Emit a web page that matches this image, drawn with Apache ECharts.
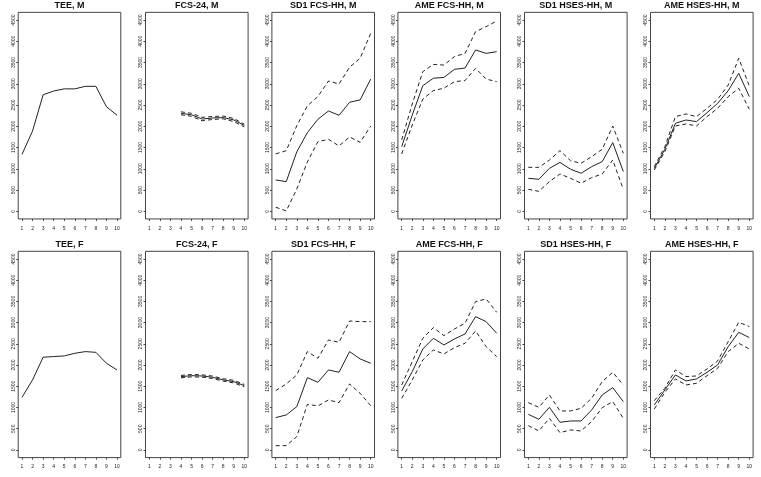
<!DOCTYPE html>
<html>
<head>
<meta charset="utf-8">
<script src="https://cdn.jsdelivr.net/npm/echarts@6/dist/echarts.min.js"></script>
<style>html,body{margin:0;padding:0;background:#fff}#c{width:761px;height:477px}</style>
</head>
<body>
<div id="c"></div>
<script>
// ---- data ----
const xs = [1, 2, 3, 4, 5, 6, 7, 8, 9, 10];
const yTicks = [0, 500, 1000, 1500, 2000, 2500, 3000, 3500, 4000, 4500];
const titles = ['TEE, M', 'FCS-24, M', 'SD1 FCS-HH, M', 'AME FCS-HH, M', 'SD1 HSES-HH, M', 'AME HSES-HH, M',
                'TEE, F', 'FCS-24, F', 'SD1 FCS-HH, F', 'AME FCS-HH, F', 'SD1 HSES-HH, F', 'AME HSES-HH, F'];

const teeM = [1340, 1890, 2740, 2830, 2880, 2880, 2940, 2940, 2460, 2260];

const fcs24M    = [null, null, null, 2305, 2270, 2170, 2195, 2205, 2150, 2020];
const fcs24M_hi = [null, null, null, 2340, 2305, 2210, 2230, 2240, 2185, 2050];
const fcs24M_lo = [null, null, null, 2270, 2235, 2130, 2160, 2175, 2110, 1985];

const sd1FcsM    = [737, 698, 1400, 1850, 2165, 2360, 2258, 2565, 2620, 3110];
const sd1FcsM_hi = [1350, 1425, 2015, 2480, 2700, 3065, 2995, 3390, 3600, 4185];
const sd1FcsM_lo = [95, 10, 525, 1160, 1640, 1693, 1537, 1748, 1623, 2005];

const ameFcsM    = [1520, 2265, 2955, 3130, 3150, 3340, 3370, 3795, 3715, 3755];
const ameFcsM_hi = [1680, 2525, 3285, 3455, 3440, 3640, 3715, 4225, 4345, 4475];
const ameFcsM_lo = [1350, 2030, 2640, 2840, 2895, 3050, 3075, 3365, 3110, 3050];

const sd1HsesM    = [776, 753, 1010, 1150, 990, 895, 1050, 1168, 1615, 935];
const sd1HsesM_hi = [1035, 1035, 1205, 1427, 1190, 1130, 1285, 1458, 2005, 1365];
const sd1HsesM_lo = [517, 470, 698, 878, 776, 660, 792, 878, 1207, 517];

const ameHsesM    = [1010, 1458, 2070, 2148, 2110, 2320, 2540, 2838, 3246, 2697];
const ameHsesM_hi = [1050, 1520, 2227, 2290, 2227, 2423, 2634, 2970, 3600, 2948];
const ameHsesM_lo = [972, 1403, 2007, 2054, 2007, 2227, 2423, 2697, 2893, 2400];

const teeF = [1240, 1650, 2185, 2200, 2215, 2277, 2317, 2300, 2042, 1885];

const fcs24F    = [null, null, null, 1728, 1750, 1743, 1712, 1650, 1610, 1516];
const fcs24F_hi = [null, null, null, 1755, 1778, 1770, 1740, 1678, 1640, 1545];
const fcs24F_lo = [null, null, null, 1700, 1722, 1715, 1684, 1622, 1580, 1487];

const sd1FcsF    = [762, 825, 1021, 1704, 1594, 1885, 1830, 2317, 2144, 2042];
const sd1FcsF_hi = [1398, 1555, 1767, 2317, 2160, 2591, 2537, 3039, 3023, 3023];
const sd1FcsF_lo = [102, 102, 314, 1076, 1037, 1178, 1115, 1555, 1335, 1044];

const ameFcsF    = [1390, 1845, 2379, 2631, 2474, 2615, 2733, 3141, 3023, 2749];
const ameFcsF_hi = [1531, 2081, 2631, 2882, 2694, 2851, 2984, 3495, 3557, 3243];
const ameFcsF_lo = [1217, 1649, 2120, 2356, 2262, 2411, 2513, 2804, 2434, 2199];

const sd1HsesF    = [840, 722, 1005, 652, 683, 683, 942, 1296, 1468, 1139];
const sd1HsesF_hi = [1115, 1005, 1296, 919, 919, 982, 1217, 1610, 1830, 1531];
const sd1HsesF_lo = [573, 448, 746, 408, 471, 448, 668, 997, 1139, 746];

const ameHsesF    = [1060, 1414, 1767, 1626, 1673, 1830, 2003, 2434, 2772, 2647];
const ameHsesF_hi = [1162, 1453, 1885, 1728, 1743, 1908, 2097, 2552, 3008, 2906];
const ameHsesF_lo = [966, 1359, 1673, 1531, 1571, 1751, 1924, 2317, 2513, 2379];

const panelData = [
  [teeM], [fcs24M, fcs24M_hi, fcs24M_lo], [sd1FcsM, sd1FcsM_hi, sd1FcsM_lo],
  [ameFcsM, ameFcsM_hi, ameFcsM_lo], [sd1HsesM, sd1HsesM_hi, sd1HsesM_lo], [ameHsesM, ameHsesM_hi, ameHsesM_lo],
  [teeF], [fcs24F, fcs24F_hi, fcs24F_lo], [sd1FcsF, sd1FcsF_hi, sd1FcsF_lo],
  [ameFcsF, ameFcsF_hi, ameFcsF_lo], [sd1HsesF, sd1HsesF_hi, sd1HsesF_lo], [ameHsesF, ameHsesF_hi, ameHsesF_lo]
];

// ---- layout ----
const colLeft = [18.2, 145.5, 271.9, 397.9, 524.5, 650.5];
const boxW = 102.6;
const rowTop = [12.35, 251.3];
const boxH = [206.6, 206.3];
const titleTop = [1.5, 240];

const grids = [], xAxes = [], yAxes = [], series = [], titleList = [];
for (let i = 0; i < 12; i++) {
  const r = Math.floor(i / 6), c = i % 6;
  grids.push({left: colLeft[c], top: rowTop[r], width: boxW, height: boxH[r],
    show: true, borderColor: '#444', borderWidth: 1, backgroundColor: 'transparent', containLabel: false});
  xAxes.push({type: 'value', gridIndex: i, min: 0.64, max: 10.36, position: 'bottom',
    axisLine: {show: false, onZero: false}, splitLine: {show: false},
    axisTick: {show: true, customValues: xs, length: 2, lineStyle: {color: '#444'}},
    axisLabel: {customValues: xs, fontSize: 5, margin: 7, color: '#222', fontFamily: 'Liberation Sans, Arial',
      formatter: v => String(v)}});
  yAxes.push({type: 'value', gridIndex: i, min: -180, max: 4680, position: 'left',
    axisLine: {show: false, onZero: false}, splitLine: {show: false},
    axisTick: {show: true, customValues: yTicks, length: 2, lineStyle: {color: '#444'}},
    axisLabel: {customValues: yTicks, fontSize: 5, margin: 2, rotate: 90, color: '#222', fontFamily: 'Liberation Sans, Arial',
      formatter: v => String(v)}});
  titleList.push({text: titles[i], left: colLeft[c] + boxW / 2, top: titleTop[r], textAlign: 'center', padding: 0,
    textStyle: {fontSize: 9, fontWeight: 'bold', color: '#111', fontFamily: 'Liberation Sans, Arial'}});
  const arrs = panelData[i];
  arrs.forEach((vals, k) => {
    const data = [];
    xs.forEach((x, j) => { if (vals[j] != null) data.push([x, vals[j]]); });
    series.push({type: 'line', xAxisIndex: i, yAxisIndex: i, data, symbol: 'none', silent: true,
      animation: false,
      lineStyle: {color: '#222', width: 1, type: k === 0 ? 'solid' : [4, 3]}});
  });
}

const chart = echarts.init(document.getElementById('c'), null, {renderer: 'canvas'});
chart.setOption({animation: false, backgroundColor: '#fff', title: titleList, grid: grids, xAxis: xAxes, yAxis: yAxes, series});
</script>
</body>
</html>
